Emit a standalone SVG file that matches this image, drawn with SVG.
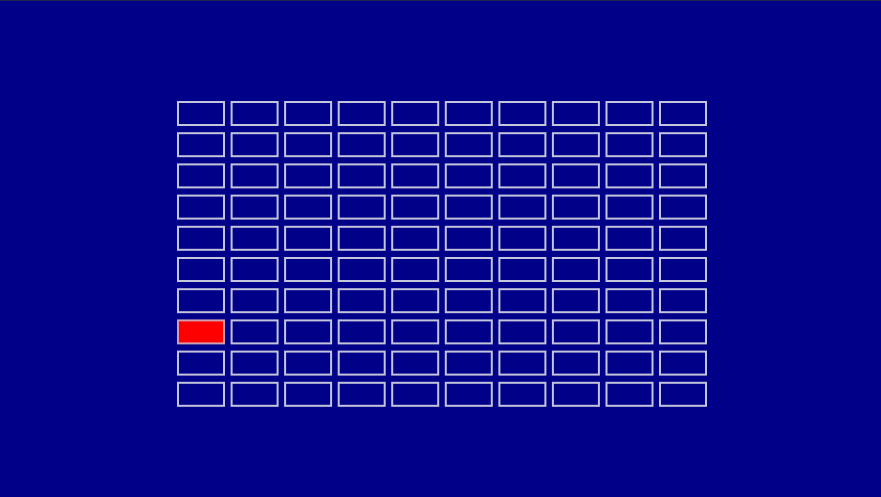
<svg xmlns="http://www.w3.org/2000/svg" width="881" height="497" viewBox="0 0 881 497">
<style>
.c{fill:none;stroke:#c4c4dc;stroke-width:2}
.r{fill:#ff0000;stroke:#d0a0b0;stroke-width:2}
</style>
<defs><rect id="cell" class="c" x="0" y="0" width="46" height="23"/></defs>
<rect width="881" height="497" fill="#000088"/>
<rect width="881" height="1" fill="#22224a"/>
<g id="grid">
<g id="row0" transform="translate(0,102)"><use href="#cell" x="178"/><use href="#cell" x="231.6"/><use href="#cell" x="285.1"/><use href="#cell" x="338.7"/><use href="#cell" x="392.2"/><use href="#cell" x="445.8"/><use href="#cell" x="499.4"/><use href="#cell" x="552.9"/><use href="#cell" x="606.5"/><use href="#cell" x="660"/></g>
<g id="row1" transform="translate(0,133.2)"><use href="#cell" x="178"/><use href="#cell" x="231.6"/><use href="#cell" x="285.1"/><use href="#cell" x="338.7"/><use href="#cell" x="392.2"/><use href="#cell" x="445.8"/><use href="#cell" x="499.4"/><use href="#cell" x="552.9"/><use href="#cell" x="606.5"/><use href="#cell" x="660"/></g>
<g id="row2" transform="translate(0,164.4)"><use href="#cell" x="178"/><use href="#cell" x="231.6"/><use href="#cell" x="285.1"/><use href="#cell" x="338.7"/><use href="#cell" x="392.2"/><use href="#cell" x="445.8"/><use href="#cell" x="499.4"/><use href="#cell" x="552.9"/><use href="#cell" x="606.5"/><use href="#cell" x="660"/></g>
<g id="row3" transform="translate(0,195.6)"><use href="#cell" x="178"/><use href="#cell" x="231.6"/><use href="#cell" x="285.1"/><use href="#cell" x="338.7"/><use href="#cell" x="392.2"/><use href="#cell" x="445.8"/><use href="#cell" x="499.4"/><use href="#cell" x="552.9"/><use href="#cell" x="606.5"/><use href="#cell" x="660"/></g>
<g id="row4" transform="translate(0,226.8)"><use href="#cell" x="178"/><use href="#cell" x="231.6"/><use href="#cell" x="285.1"/><use href="#cell" x="338.7"/><use href="#cell" x="392.2"/><use href="#cell" x="445.8"/><use href="#cell" x="499.4"/><use href="#cell" x="552.9"/><use href="#cell" x="606.5"/><use href="#cell" x="660"/></g>
<g id="row5" transform="translate(0,258)"><use href="#cell" x="178"/><use href="#cell" x="231.6"/><use href="#cell" x="285.1"/><use href="#cell" x="338.7"/><use href="#cell" x="392.2"/><use href="#cell" x="445.8"/><use href="#cell" x="499.4"/><use href="#cell" x="552.9"/><use href="#cell" x="606.5"/><use href="#cell" x="660"/></g>
<g id="row6" transform="translate(0,289.2)"><use href="#cell" x="178"/><use href="#cell" x="231.6"/><use href="#cell" x="285.1"/><use href="#cell" x="338.7"/><use href="#cell" x="392.2"/><use href="#cell" x="445.8"/><use href="#cell" x="499.4"/><use href="#cell" x="552.9"/><use href="#cell" x="606.5"/><use href="#cell" x="660"/></g>
<g id="row7" transform="translate(0,320.4)"><rect class="r" x="178" y="0" width="46" height="23"/><use href="#cell" x="231.6"/><use href="#cell" x="285.1"/><use href="#cell" x="338.7"/><use href="#cell" x="392.2"/><use href="#cell" x="445.8"/><use href="#cell" x="499.4"/><use href="#cell" x="552.9"/><use href="#cell" x="606.5"/><use href="#cell" x="660"/></g>
<g id="row8" transform="translate(0,351.6)"><use href="#cell" x="178"/><use href="#cell" x="231.6"/><use href="#cell" x="285.1"/><use href="#cell" x="338.7"/><use href="#cell" x="392.2"/><use href="#cell" x="445.8"/><use href="#cell" x="499.4"/><use href="#cell" x="552.9"/><use href="#cell" x="606.5"/><use href="#cell" x="660"/></g>
<g id="row9" transform="translate(0,382.8)"><use href="#cell" x="178"/><use href="#cell" x="231.6"/><use href="#cell" x="285.1"/><use href="#cell" x="338.7"/><use href="#cell" x="392.2"/><use href="#cell" x="445.8"/><use href="#cell" x="499.4"/><use href="#cell" x="552.9"/><use href="#cell" x="606.5"/><use href="#cell" x="660"/></g>
</g>
</svg>
